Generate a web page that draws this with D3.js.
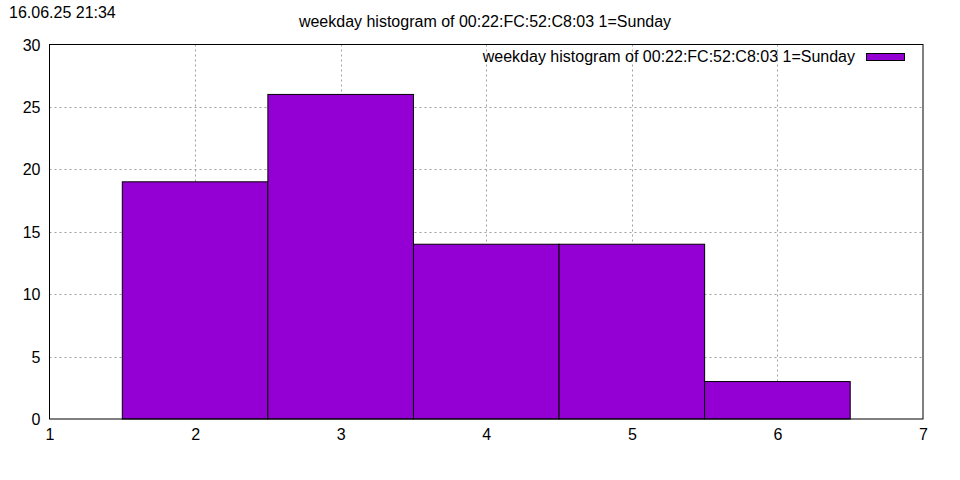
<!DOCTYPE html>
<html><head><meta charset="utf-8">
<script src="https://cdn.jsdelivr.net/npm/d3@7"></script>
<style>body{margin:0;background:#fff}svg{display:block;font-family:"Liberation Sans",Arial,sans-serif}</style>
</head><body>
<script>
const days = [2, 3, 4, 5, 6];
const counts = [19, 26, 14, 14, 3];
const xTicks = [1, 2, 3, 4, 5, 6, 7];
const yTicks = [0, 5, 10, 15, 20, 25, 30];
const title = "weekday histogram of 00:22:FC:52:C8:03 1=Sunday";
const stamp = "16.06.25 21:34";

const W = 960, H = 480;
const m = {l: 49.5, r: 923, t: 44.5, b: 419};
const svg = d3.select("body").append("svg").attr("width", W).attr("height", H);
const x = d3.scaleLinear().domain([1, 7]).range([m.l, m.r]);
const y = d3.scaleLinear().domain([0, 30]).range([m.b, m.t]);

// grid
const g = svg.append("g").attr("stroke", "#a0a0a0").attr("stroke-dasharray", "2,3").attr("stroke-width", 1);
xTicks.slice(1, -1).forEach(t => g.append("line").attr("x1", Math.round(x(t)) + 0.5).attr("x2", Math.round(x(t)) + 0.5).attr("y1", m.t).attr("y2", m.b));
yTicks.slice(1, -1).forEach(t => g.append("line").attr("y1", Math.round(y(t)) + 0.5).attr("y2", Math.round(y(t)) + 0.5).attr("x1", m.l).attr("x2", m.r));

// bars
svg.append("g").selectAll("rect").data(days).join("rect")
  .attr("x", d => x(d - 0.5)).attr("width", d => x(d + 0.5) - x(d - 0.5))
  .attr("y", (d, i) => y(counts[i])).attr("height", (d, i) => y(0) - y(counts[i]))
  .attr("fill", "#9400d3").attr("stroke", "#000").attr("stroke-width", 1);

// frame
svg.append("rect").attr("x", m.l).attr("y", m.t).attr("width", m.r - m.l).attr("height", m.b - m.t)
  .attr("fill", "none").attr("stroke", "#000").attr("stroke-width", 1);

// axes
const xa = svg.append("g").attr("transform", `translate(0,${m.b})`)
  .call(d3.axisBottom(x).tickValues(xTicks).tickFormat(d3.format("d")).tickSize(0).tickPadding(10));
const ya = svg.append("g").attr("transform", `translate(${m.l},0)`)
  .call(d3.axisLeft(y).tickValues(yTicks).tickFormat(d3.format("d")).tickSize(0).tickPadding(9));
[xa, ya].forEach(a => { a.select(".domain").remove(); a.selectAll("text").attr("font-size", 16).attr("fill", "#000").attr("font-family", "Liberation Sans, Arial, sans-serif"); });
ya.selectAll("text").attr("dy", "0.35em");
xa.selectAll("text").attr("dy", "0.71em");

// title / stamp
svg.append("text").attr("x", 485).attr("y", 27).attr("text-anchor", "middle").attr("font-size", 16).text(title);
svg.append("text").attr("x", 9).attr("y", 18).attr("font-size", 16).text(stamp);

// legend
svg.append("text").attr("x", 855).attr("y", 62).attr("text-anchor", "end").attr("font-size", 16).text(title);
svg.append("rect").attr("x", 866.5).attr("y", 53.5).attr("width", 38).attr("height", 7)
  .attr("fill", "#9400d3").attr("stroke", "#000").attr("stroke-width", 1);
</script>
</body></html>
